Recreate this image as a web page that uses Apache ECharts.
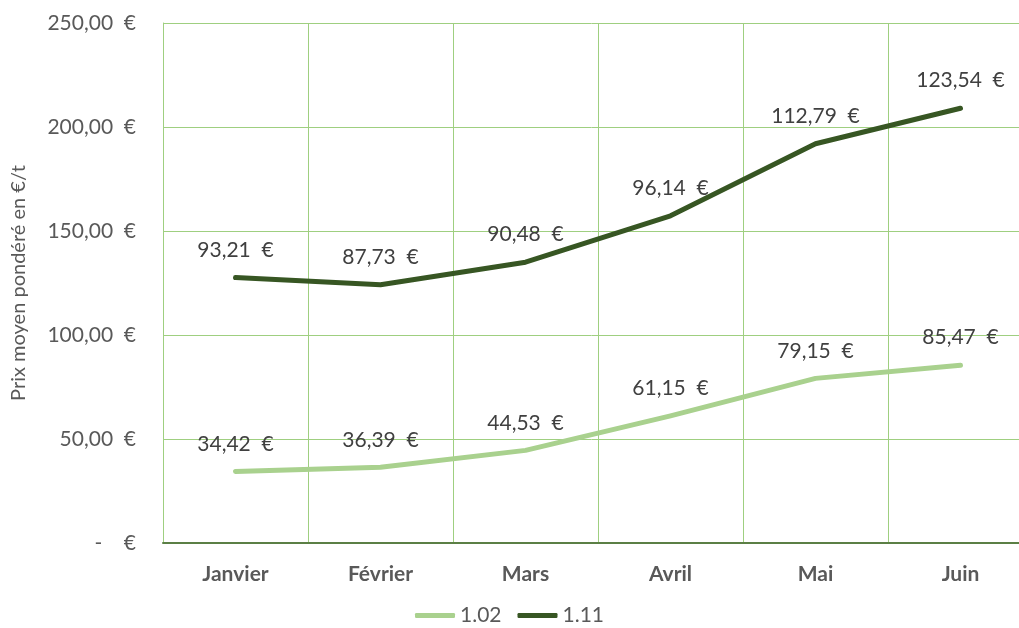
<!DOCTYPE html>
<html>
<head>
<meta charset="utf-8">
<script src="https://cdn.jsdelivr.net/npm/echarts@6/dist/echarts.min.js"></script>
<style>
  html, body { margin: 0; padding: 0; background: #fff; }
  #main { width: 1019px; height: 628px; }
</style>
</head>
<body>
<div id="main"></div>
<script>
// mois
var months = ['Janvier', 'Février', 'Mars', 'Avril', 'Mai', 'Juin'];
// prix moyen pondéré (€/t), les courbes sont empilées
var serie102 = [34.42, 36.39, 44.53, 61.15, 79.15, 85.47];
var serie111 = [93.21, 87.73, 90.48, 96.14, 112.79, 123.54];
var seriesNames = ['1.02', '1.11'];

var font = 'Lato, "Open Sans", sans-serif';

function euro(v) {
    if (v === 0) return '-    €';
    return v.toFixed(2).replace('.', ',') + '  €';
}

var chart = echarts.init(document.getElementById('main'));

var option = {
    backgroundColor: '#FFFFFF',
    animation: false,
    textStyle: { fontFamily: font },
    legend: {
        bottom: -3,
        left: 'center',
        itemWidth: 40,
        itemHeight: 5,
        itemGap: 16,
        icon: 'roundRect',
        textStyle: { fontSize: 21, color: '#595959', fontFamily: font },
        data: seriesNames
    },
    grid: {
        left: 163,
        top: 23,
        width: 870,
        height: 520,
        outerBoundsMode: 'none',
        containLabel: false
    },
    xAxis: {
        type: 'category',
        data: months,
        boundaryGap: true,
        axisTick: { show: false },
        axisLine: { lineStyle: { color: '#5b7f45', width: 2 } },
        splitLine: { show: true, lineStyle: { color: '#9fcf80', width: 1 } },
        axisLabel: {
            margin: 21,
            fontSize: 21,
            fontWeight: 'bold',
            color: '#595959',
            fontFamily: font
        }
    },
    yAxis: {
        type: 'value',
        min: 0,
        max: 250,
        interval: 50,
        name: 'Prix moyen pondéré en €/t',
        nameLocation: 'middle',
        nameGap: 134,
        nameTextStyle: { fontSize: 20, color: '#595959', fontFamily: font },
        axisLine: { show: true, lineStyle: { color: '#9fcf80' } },
        axisTick: { show: false },
        splitLine: { lineStyle: { color: '#9fcf80', width: 1 } },
        axisLabel: {
            margin: 27,
            fontSize: 21,
            color: '#595959',
            fontFamily: font,
            formatter: euro
        }
    },
    series: [{
        name: '1.02',
        type: 'line',
        stack: 'total',
        data: serie102,
        symbol: 'circle',
        symbolSize: 0.1,
        lineStyle: { color: '#a9d18e', width: 5, cap: 'round', join: 'round' },
        itemStyle: { color: '#a9d18e' },
        label: {
            show: true,
            position: 'top',
            distance: 17,
            fontSize: 21,
            color: '#404040',
            fontFamily: font,
            formatter: function (p) { return euro(p.value); }
        }
    }, {
        name: '1.11',
        type: 'line',
        stack: 'total',
        data: serie111,
        symbol: 'circle',
        symbolSize: 0.1,
        lineStyle: { color: '#375623', width: 5, cap: 'round', join: 'round' },
        itemStyle: { color: '#375623' },
        label: {
            show: true,
            position: 'top',
            distance: 17,
            fontSize: 21,
            color: '#404040',
            fontFamily: font,
            formatter: function (p) { return euro(p.value); }
        }
    }]
};

chart.setOption(option);
</script>
</body>
</html>
